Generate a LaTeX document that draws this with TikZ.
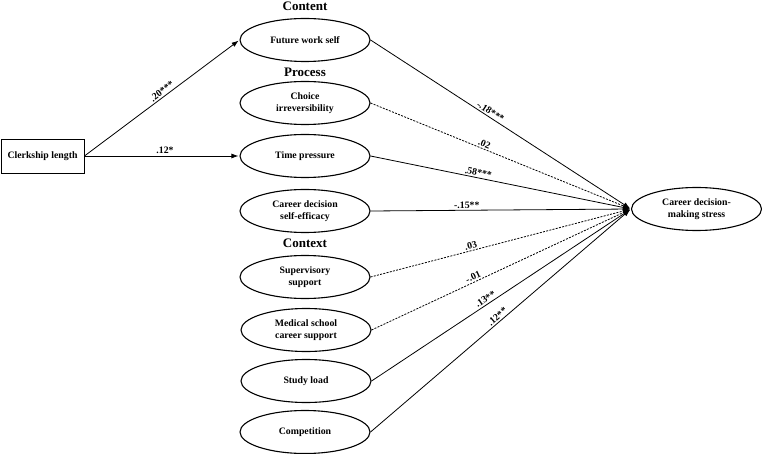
\documentclass[tikz,border=0pt]{standalone}
\usepackage{fontspec}
\setmainfont{Liberation Serif}
\usetikzlibrary{arrows.meta,shapes.geometric}
\begin{document}
\begin{tikzpicture}[x=1pt,y=-1pt,
  oval/.style={draw,ellipse,line width=1.1pt,minimum width=130pt,minimum height=43pt,inner sep=0pt,align=center,font=\bfseries\fontsize{9.8}{11.5}\selectfont},
  boxnode/.style={draw,rectangle,line width=0.9pt,minimum width=83pt,minimum height=34pt,inner sep=0pt,font=\bfseries\fontsize{9.8}{11.5}\selectfont},
  header/.style={font=\bfseries\fontsize{13}{15}\selectfont},
  path/.style={line width=0.8pt,-{Latex[length=7pt,width=5pt]},shorten >=1pt},
  nspath/.style={path,dash pattern=on 2pt off 1.3pt},
  coef/.style={sloped,above,inner sep=1.5pt,font=\bfseries\fontsize{9.8}{11.5}\selectfont}]
\useasboundingbox (0,0) rectangle (762,454);
\node[boxnode] (cl) at (42.5,156) {Clerkship length};
\node[header] (hcontent) at (305,6) {Content};
\node[header] (hprocess) at (305,72) {Process};
\node[header] (hcontext) at (305,243) {Context};
\node[oval] (fws) at (305,40) {Future work self};
\node[oval] (ci) at (305,103) {Choice\\irreversibility};
\node[oval] (tp) at (305,156) {Time pressure};
\node[oval] (cdse) at (305,211) {Career decision\\self-efficacy};
\node[oval] (ss) at (305,277) {Supervisory\\support};
\node[oval] (ms) at (306,330) {Medical school\\career support};
\node[oval] (sl) at (306,381) {Study load};
\node[oval] (comp) at (305,432) {Competition};
\node[oval] (st) at (696.5,209) {Career decision-\\making stress};
\draw[path] (cl.east) -- node[coef,pos=0.52] {.20***} (fws.west);
\draw[path] (cl.east) -- node[coef,pos=0.52] {.12*} (tp.west);
\draw[path] (fws.east) -- node[coef,pos=0.45] {-.18***} (st.west);
\draw[nspath] (ci.east) -- node[coef,pos=0.43] {.02} (st.west);
\draw[path] (tp.east) -- node[coef,pos=0.41] {.58***} (st.west);
\draw[path] (cdse.east) -- node[coef,pos=0.37] {-.15**} (st.west);
\draw[nspath] (ss.east) -- node[coef,pos=0.39] {.03} (st.west);
\draw[nspath] (ms.east) -- node[coef,pos=0.40] {-.01} (st.west);
\draw[path] (sl.east) -- node[coef,pos=0.45] {.13**} (st.west);
\draw[path] (comp.east) -- node[coef,pos=0.50] {.12**} (st.west);
\end{tikzpicture}
\end{document}
